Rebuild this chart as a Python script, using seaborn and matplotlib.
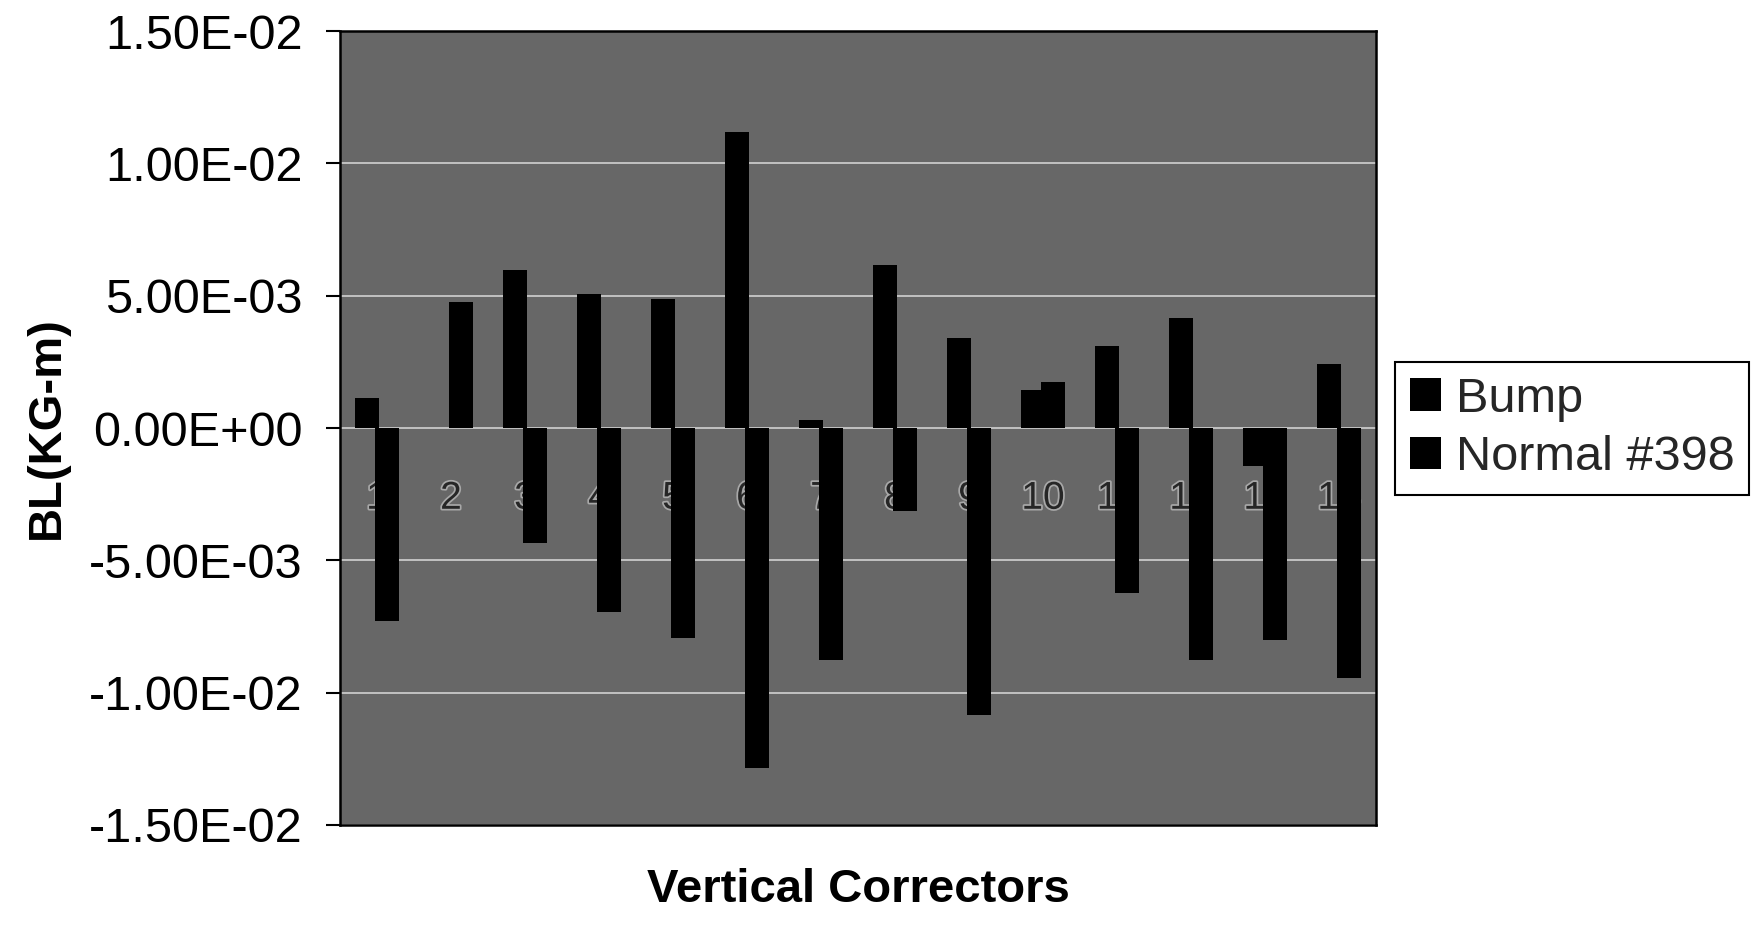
import numpy as np
import pandas as pd
import matplotlib
matplotlib.use("Agg")
import matplotlib.pyplot as plt
import matplotlib.patheffects as pe
from matplotlib.ticker import FuncFormatter
import seaborn as sns

# ---- data ----
correctors = [str(i) for i in range(1, 15)]
bump = [1.14e-3, 0.0, 5.96e-3, 5.05e-3, 4.86e-3, 11.17e-3, 0.30e-3,
        6.15e-3, 3.41e-3, 1.44e-3, 3.09e-3, 4.17e-3, -1.45e-3, 2.42e-3]
normal_398 = [-7.30e-3, 4.77e-3, -4.36e-3, -6.94e-3, -7.95e-3, -12.85e-3, -8.77e-3,
              -3.15e-3, -10.86e-3, 1.74e-3, -6.25e-3, -8.77e-3, -8.02e-3, -9.44e-3]
series_names = ["Bump", "Normal #398"]
y_ticks = [-1.5e-2, -1.0e-2, -5.0e-3, 0.0, 5.0e-3, 1.0e-2, 1.5e-2]

df = pd.DataFrame({
    "corrector": correctors * 2,
    "series": [series_names[0]] * len(correctors) + [series_names[1]] * len(correctors),
    "value": bump + normal_398,
})

sns.set_theme(style="white")
plt.rcParams["font.family"] = ["Liberation Sans", "DejaVu Sans"]

fig = plt.figure(figsize=(17.54, 9.33), dpi=100)
ax = fig.add_axes([340 / 1754, 1 - 825 / 933, 1036 / 1754, 794 / 933])

ax.set_facecolor("#676767")
ax.set_axisbelow(True)
ax.yaxis.grid(True, color="#c9c9c9", linewidth=1.3)
ax.xaxis.grid(False)

sns.barplot(data=df, x="corrector", y="value", hue="series", order=correctors,
            hue_order=series_names, palette=["black", "black"], saturation=1,
            width=0.54, gap=-0.226, errorbar=None, ax=ax, zorder=2,
            linewidth=0, edgecolor="black")

ax.set_ylim(-0.015, 0.015)
ax.set_xlim(-0.5, len(correctors) - 0.5)
ax.set_yticks(y_ticks)
ax.yaxis.set_major_formatter(FuncFormatter(lambda v, p: "{:.2E}".format(v)))
ax.tick_params(axis="y", left=True, length=10, width=1.5, pad=17,
               labelsize=35, colors="black", direction="out")
ax.tick_params(axis="x", bottom=False, labelbottom=False)

for s in ax.spines.values():
    s.set_visible(True)
    s.set_color("black")
    s.set_linewidth(1.8)

# category labels sit next to the axis which crosses at zero
sec = ax.secondary_xaxis(0.5)
sec.set_xticks(range(len(correctors)), correctors)
sec.xaxis.set_ticks_position("bottom")
sec.tick_params(axis="x", bottom=True, top=False, labelbottom=True, labeltop=False,
                length=0, pad=38, labelsize=28, labelcolor="#262626")
for lab in sec.get_xticklabels():
    lab.set_path_effects([pe.withStroke(linewidth=2.5, foreground="#a8a8a8")])
for s in sec.spines.values():
    s.set_visible(False)

ax.set_xlabel("Vertical Correctors", fontsize=34, fontweight="bold", color="black")
ax.xaxis.set_label_coords(0.5, -0.054)
ax.set_ylabel("BL(KG-m)", fontsize=34, fontweight="bold", color="black")
ax.yaxis.set_label_coords(-0.262, 0.5)

sns.move_legend(ax, loc="upper left", bbox_to_anchor=(1395 / 1754, 1 - 362 / 933),
                bbox_transform=fig.transFigure, title=None, fontsize=35,
                frameon=True, fancybox=False, edgecolor="black", framealpha=1,
                handlelength=0.65, handleheight=0.65, handletextpad=0.3,
                borderpad=0.3, labelspacing=0.28, borderaxespad=0)
leg = ax.get_legend()
leg.get_frame().set_linewidth(1.5)

fig.savefig("out.png", dpi=100, facecolor="white")
